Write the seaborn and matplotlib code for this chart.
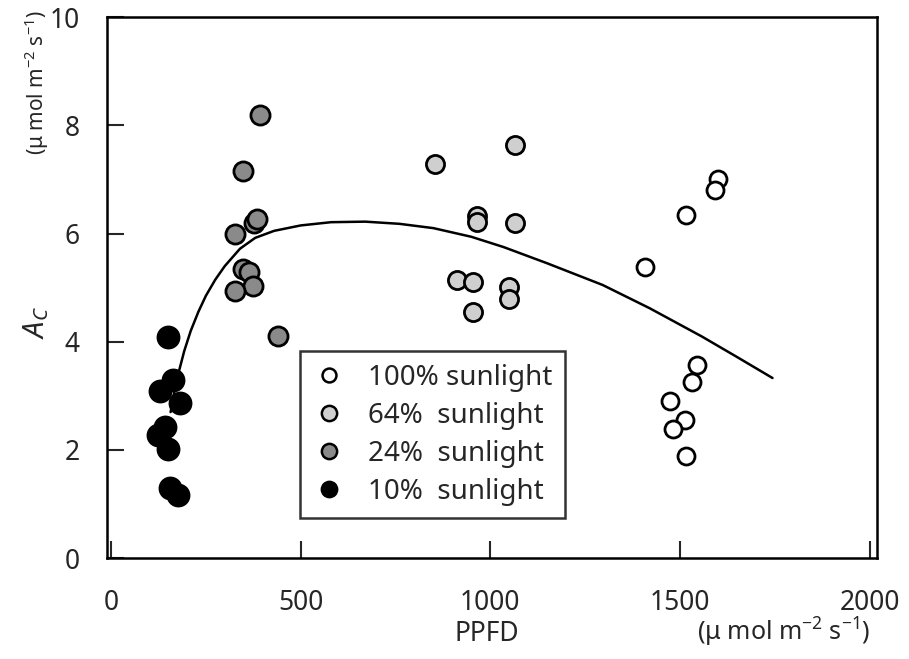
import pandas as pd
import numpy as np
import seaborn as sns
import matplotlib.pyplot as plt
from matplotlib.lines import Line2D

# --- data ---
ppfd_100 = [1601, 1593, 1515, 1408, 1546, 1533, 1473, 1512, 1481, 1515]
ac_100 = [7.00, 6.80, 6.34, 5.38, 3.57, 3.26, 2.91, 2.56, 2.39, 1.88]

ppfd_64 = [853, 1064, 965, 965, 1064, 913, 954, 1048, 1048, 954]
ac_64 = [7.29, 7.64, 6.33, 6.22, 6.19, 5.14, 5.10, 5.01, 4.79, 4.55]

ppfd_24 = [394, 347, 326, 378, 384, 349, 365, 373, 326, 440]
ac_24 = [8.19, 7.15, 5.99, 6.20, 6.26, 5.34, 5.29, 5.03, 4.94, 4.10]

ppfd_10 = [151, 164, 130, 183, 143, 125, 151, 156, 177]
ac_10 = [4.09, 3.30, 3.09, 2.87, 2.43, 2.28, 2.01, 1.29, 1.16]

curve_x = [157, 167, 177, 193, 210, 230, 250, 275, 300, 340, 380, 430, 500, 580, 670,
           760, 850, 950, 1035, 1150, 1296, 1420, 1557, 1650, 1744]
curve_y = [2.70, 3.08, 3.40, 3.83, 4.20, 4.55, 4.85, 5.15, 5.40, 5.72, 5.92, 6.05, 6.15, 6.21, 6.22,
           6.18, 6.10, 5.94, 5.75, 5.45, 5.05, 4.62, 4.10, 3.72, 3.33]

groups = ['100% sunlight', '64%  sunlight', '24%  sunlight', '10%  sunlight']

df = pd.concat([
    pd.DataFrame({'ppfd': ppfd_100, 'ac': ac_100, 'group': groups[0]}),
    pd.DataFrame({'ppfd': ppfd_64, 'ac': ac_64, 'group': groups[1]}),
    pd.DataFrame({'ppfd': ppfd_24, 'ac': ac_24, 'group': groups[2]}),
    pd.DataFrame({'ppfd': ppfd_10, 'ac': ac_10, 'group': groups[3]}),
])
curve = pd.DataFrame({'ppfd': curve_x, 'ac': curve_y})

sns.set_style('ticks')
plt.rcParams['font.family'] = ['Noto Sans', 'DejaVu Sans']
plt.rcParams['mathtext.fontset'] = 'custom'
plt.rcParams['mathtext.rm'] = 'Noto Sans'
plt.rcParams['mathtext.it'] = 'Noto Sans:italic'

fig = plt.figure(figsize=(9.09, 6.59), dpi=100)
ax = fig.add_axes([0.118, 0.153, 0.847, 0.821])

sns.lineplot(data=curve, x='ppfd', y='ac', color='black', linewidth=1.8, ax=ax, sort=False)

faces = {groups[0]: 'white', groups[1]: '#cfcfcf', groups[2]: '#8a8a8a', groups[3]: 'black'}
sizes = {groups[0]: 150, groups[1]: 170, groups[2]: 190, groups[3]: 230}
for g in groups:
    sub = df[df['group'] == g]
    sns.scatterplot(data=sub, x='ppfd', y='ac', ax=ax, s=sizes[g],
                    color=faces[g], edgecolor='black', linewidth=2.0, zorder=3)

ax.set_xlim(-10, 2020)
ax.set_ylim(0, 10)
ax.set_xticks([0, 500, 1000, 1500, 2000])
ax.set_yticks([0, 2, 4, 6, 8, 10])
ax.tick_params(direction='in', length=12, width=1.5, labelsize=19, top=False, right=False)
ax.tick_params(axis='x', pad=22)
ax.tick_params(axis='y', pad=20)
for sp in ax.spines.values():
    sp.set_linewidth(1.8)
    sp.set_color('black')

ax.set_xlabel('')
ax.set_ylabel('')
units = 'μ mol m$^{-2}$ s$^{-1}$'.join(['(', ')'])
fig.text(0.535, 0.028, 'PPFD', fontsize=19, ha='center')
fig.text(0.862, 0.028, units, fontsize=18, ha='center')
fig.text(0.04, 0.51, r'$\mathit{A}_{C}$', fontsize=21, rotation=90, ha='center', va='center')
fig.text(0.04, 0.874, units, fontsize=15, rotation=90, ha='center', va='center')

handles = [Line2D([], [], marker='o', linestyle='', markersize=11 if g != groups[0] else 10,
                  markerfacecolor=faces[g], markeredgecolor='black', markeredgewidth=1.8)
           for g in groups]
leg = ax.legend(handles, groups, loc='lower left', bbox_to_anchor=(0.25, 0.074),
                borderaxespad=0, frameon=True, fancybox=False, fontsize=20,
                handletextpad=0.8, labelspacing=0.36, borderpad=0.45, handlelength=1.2)
leg.get_frame().set_edgecolor('black')
leg.get_frame().set_linewidth(1.8)

plt.savefig('out.png', dpi=100)
